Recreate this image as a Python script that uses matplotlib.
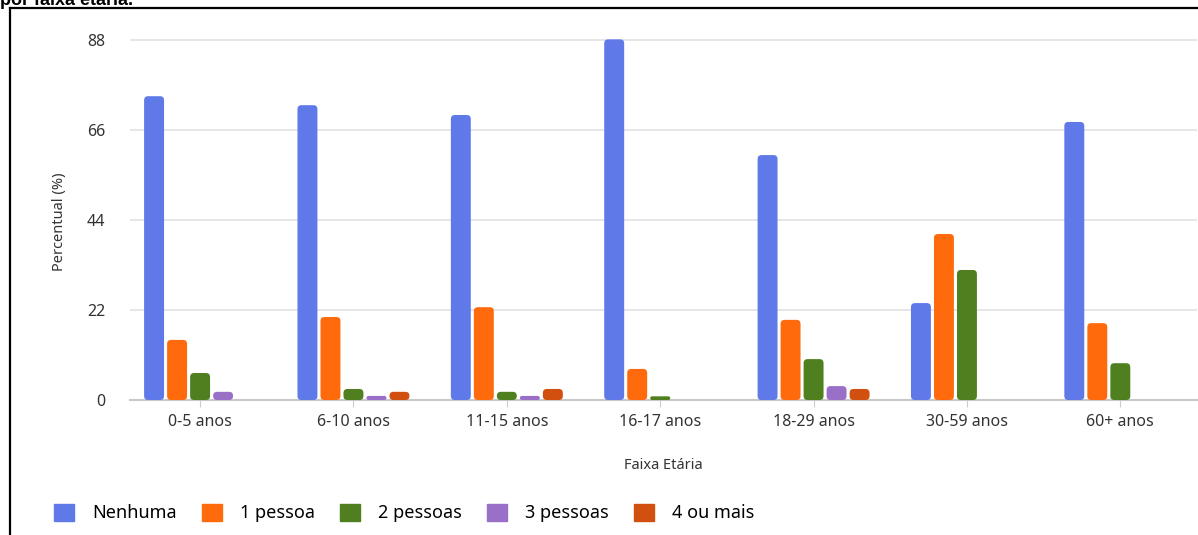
import matplotlib.pyplot as plt
import numpy as np
from matplotlib.lines import Line2D
from matplotlib.patches import FancyBboxPatch

plt.rcParams["font.family"] = ["Noto Sans", "DejaVu Sans"]

# Faixa etária x número de pessoas (percentual)
categories = ["0-5 anos", "6-10 anos", "11-15 anos", "16-17 anos",
              "18-29 anos", "30-59 anos", "60+ anos"]
series_names = ["Nenhuma", "1 pessoa", "2 pessoas", "3 pessoas", "4 ou mais"]
nenhuma = [74.3, 72.1, 69.7, 88.2, 59.9, 23.7, 68.0]
uma = [14.7, 20.3, 22.7, 7.6, 19.6, 40.6, 18.8]
duas = [6.6, 2.7, 2.0, 0.9, 10.0, 31.8, 9.0]
tres = [2.0, 1.0, 1.0, 0.0, 3.4, 0.0, 0.0]
quatro = [0.0, 2.0, 2.7, 0.0, 2.7, 0.0, 0.0]
yticks = [0, 22, 44, 66, 88]

colors = ["#5f79e8", "#ff6a0d", "#4f7f1e", "#9a6fc8", "#d1500f"]

fig = plt.figure(figsize=(11.98, 5.35), dpi=100)
ax = fig.add_axes([130 / 1198, 135 / 535, 1067 / 1198, 368 / 535])

x = np.arange(len(categories))
step = 0.15
width = 0.13
all_series = [nenhuma, uma, duas, tres, quatro]
xlim = (-0.457, 6.5)
ylim = (0, 90)
ax.set_xlim(*xlim)
ax.set_ylim(*ylim)

# px per data unit, for rounded corners
px_x = 1067 / (xlim[1] - xlim[0])
px_y = 368 / (ylim[1] - ylim[0])
r_px = 4.0

for i, (name, vals, c) in enumerate(zip(series_names, all_series, colors)):
    bars = ax.bar(x + (i - 2) * step, vals, width, color=c, label=name)
    for b in bars:
        h = b.get_height()
        if h <= 0:
            b.set_visible(False)
            continue
        rx = min(r_px, h * px_y / 2, width * px_x / 2) / px_x
        aspect = px_x / px_y
        p = FancyBboxPatch((b.get_x(), b.get_y()), b.get_width(), h,
                           boxstyle=f"round,pad=0,rounding_size={rx}",
                           mutation_aspect=aspect, facecolor=c,
                           edgecolor="none", zorder=3)
        ax.add_patch(p)
        b.set_visible(False)

ax.set_yticks(yticks)
ax.set_xticks(x)
ax.set_xticklabels(categories)
ax.grid(axis="y", color="#e2e2e2", linewidth=1.2, zorder=0)
ax.set_axisbelow(True)
for s in ["top", "right", "left"]:
    ax.spines[s].set_visible(False)
ax.spines["bottom"].set_color("#c8c8c8")
ax.spines["bottom"].set_linewidth(1.5)
ax.tick_params(axis="y", length=0, pad=18, labelsize=11.5, labelcolor="#333333")
ax.tick_params(axis="x", length=5, color="#cccccc", pad=5, labelsize=11.5,
               labelcolor="#333333")

ax.set_xlabel("Faixa Etária", fontsize=10.5, color="#333333", labelpad=20)
fig.text(60 / 1198, 1 - 222 / 535, "Percentual (%)", rotation=90,
         ha="center", va="center", fontsize=10.5, color="#333333")

handles = [plt.Rectangle((0, 0), 1, 1, color=c) for c in colors]
fig.legend(handles, series_names, loc="center left", ncol=5,
           bbox_to_anchor=(38 / 1198, 1 - 513 / 535), frameon=False,
           fontsize=13, handlelength=1.1, handleheight=1.1,
           handletextpad=1.0, columnspacing=1.4)

# Cut-off caption and frame from the source document
fig.text(0.0, 1 - 5 / 535, "por faixa etária.", fontsize=13, fontweight="bold",
         family="Liberation Sans", va="baseline", ha="left")
fig.add_artist(Line2D([10 / 1198, 1.0], [1 - 8 / 535, 1 - 8 / 535],
                      color="black", linewidth=1.6))
fig.add_artist(Line2D([10 / 1198, 10 / 1198], [0.0, 1 - 8 / 535],
                      color="black", linewidth=1.6))

fig.savefig("out.png", dpi=100)
